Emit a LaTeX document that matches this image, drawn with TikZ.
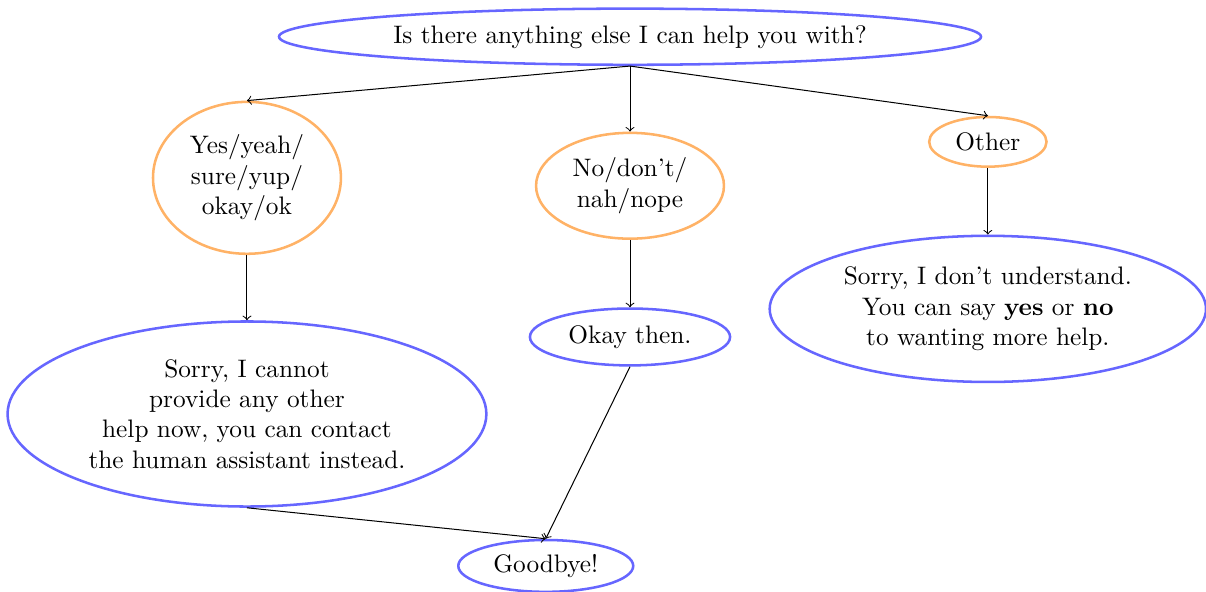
\documentclass[tikz,border=0pt]{standalone}
\usetikzlibrary{shapes.geometric}

\begin{document}
\begin{tikzpicture}[x=1cm,y=1cm,font=\normalsize,
  reply/.style={ellipse,draw=blue!60,line width=1pt,align=center,inner sep=1pt},
  answer/.style={ellipse,draw=orange!60,line width=1pt,align=center,inner sep=1pt},
  link/.style={->}]
  \useasboundingbox (0,0) rectangle (16.75,8.22);

  \node[reply,minimum width=9.75cm,minimum height=0.78cm] (ask) at (8.75,7.71)
    {Is there anything else I can help you with?};
  \node[answer,minimum width=2.61cm,minimum height=2.11cm] (yes) at (3.43,5.75)
    {Yes/yeah/\\sure/yup/\\okay/ok};
  \node[answer,minimum width=2.61cm,minimum height=1.47cm] (no) at (8.75,5.64)
    {No/don't/\\nah/nope};
  \node[answer,minimum width=1.63cm,minimum height=0.69cm] (other) at (13.72,6.25)
    {Other};
  \node[reply,minimum width=6.65cm,minimum height=2.57cm] (cannot) at (3.43,2.47)
    {Sorry, I cannot\\provide any other\\help now, you can contact\\the human assistant instead.};
  \node[reply,minimum width=2.78cm,minimum height=0.79cm] (okay) at (8.75,3.54)
    {Okay then.};
  \node[reply,minimum width=6.06cm,minimum height=2.03cm] (unclear) at (13.72,3.93)
    {Sorry, I don't understand.\\You can say \textbf{yes} or \textbf{no}\\to wanting more help.};
  \node[reply,minimum width=2.43cm,minimum height=0.72cm] (bye) at (7.58,0.36)
    {Goodbye!};

  \draw[link] (ask.south) -- (yes.north);
  \draw[link] (ask.south) -- (no.north);
  \draw[link] (ask.south) -- (other.north);
  \draw[link] (yes.south) -- (cannot.north);
  \draw[link] (no.south) -- (okay.north);
  \draw[link] (other.south) -- (unclear.north);
  \draw[link] (cannot.south) -- (bye.north);
  \draw[link] (okay.south) -- (bye.north);
\end{tikzpicture}
\end{document}
